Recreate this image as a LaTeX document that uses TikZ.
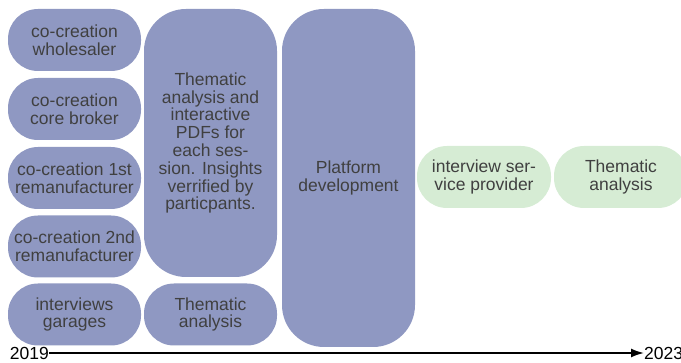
\documentclass[tikz,border=0pt]{standalone}
\usepackage{fontspec}
\setmainfont{Liberation Sans}
\usepackage{tikz}
\usetikzlibrary{arrows.meta,positioning}

\definecolor{lavender}{RGB}{143,152,194}
\definecolor{mint}{RGB}{214,236,212}
\definecolor{ink}{RGB}{64,64,64}

\begin{document}
\begin{tikzpicture}[x=1pt,y=-1pt,
		phase/.style={rectangle,fill=lavender,text=ink,align=center,inner sep=0pt,
			minimum width=133pt,minimum height=62pt,rounded corners=30pt,
			font=\fontsize{17.5}{17.8}\selectfont},
		tall/.style={phase,rounded corners=42pt},
		later/.style={phase,fill=mint,minimum width=134pt}]
						\useasboundingbox (0,0) rectangle (681,363);

						% first column: co-creation sessions and interviews
						\node[phase] (CW) at (74.5,40) {co-creation\\wholesaler};
						\node[phase] (CB) at (74.5,109) {co-creation\\core broker};
						\node[phase] (CR1) at (74.5,178) {co-creation 1st\\remanufacturer};
						\node[phase] (CR2) at (74.5,246.5) {co-creation 2nd\\remanufacturer};
						\node[phase] (IG) at (74.5,314.5) {interviews\\garages};

						% second column: analysis
						\node[tall, minimum height=268pt] (TA1) at (210.5,143) {Thematic\\analysis and\\interactive\\PDFs for\\each ses-\\sion. Insights\\verrified by\\particpants.};
						\node[phase] (TA2) at (210.5,314.5) {Thematic\\analysis};

						% third column
						\node[tall, minimum height=338pt] (PD) at (348.5,178) {Platform\\development};

						% last steps
						\node[later] (IS) at (484,177) {interview ser-\\vice provider};
						\node[later] (TA3) at (621,177) {Thematic\\analysis};

						% time axis
						\node[anchor=east,inner sep=0pt,font=\fontsize{17.5}{17.8}\selectfont] (Y19) at (49,353) {2019};
						\node[anchor=west,inner sep=0pt,font=\fontsize{17.5}{17.8}\selectfont] (Y23) at (644,353) {2023};
						\draw[line width=1.8pt,-{Latex[length=13pt,width=9pt]}] (Y19) -- (Y23);
					\end{tikzpicture}
\end{document}
